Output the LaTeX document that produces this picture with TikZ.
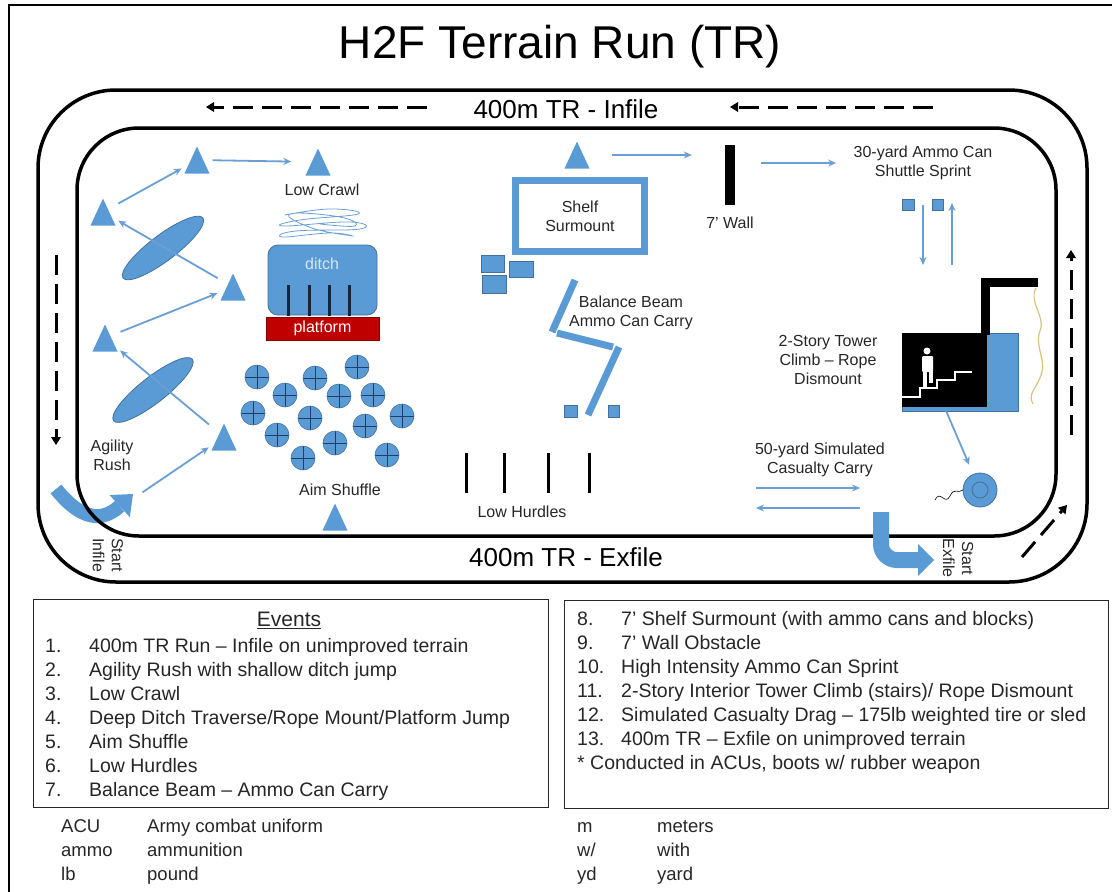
\documentclass[tikz,border=0pt]{standalone}
\usepackage{fontspec}
\setmainfont{Liberation Sans}
\usetikzlibrary{arrows.meta,shapes.geometric}

\definecolor{tblue}{HTML}{5B9BD5}
\definecolor{tedge}{HTML}{41719C}
\definecolor{tline}{HTML}{6A9FD6}
\definecolor{tdark}{HTML}{1F3F66}
\definecolor{tred}{HTML}{C00000}
\definecolor{rope}{HTML}{D9C27A}
\definecolor{ink}{HTML}{262626}

\begin{document}
\begin{tikzpicture}[x=1pt,y=-1pt,
  track/.style={line width=3.5pt},
  runarrow/.style={line width=3pt, dash pattern=on 20pt off 9pt, -{Triangle[length=8pt,width=10pt,line width=0pt]}},
  link/.style={tline, line width=1.8pt, -{Stealth[length=8pt,width=7pt]}, shorten <=3pt, shorten >=3pt},
  bigarrow/.style={tblue, line width=14pt},
  tri/.style={rectangle, minimum width=25pt, minimum height=27pt, inner sep=0pt,
    path picture={\fill[tblue] (path picture bounding box.south west) -- (path picture bounding box.south east) -- (path picture bounding box.north) -- cycle;}},
  disc/.style={ellipse, fill=tblue, draw=tedge, line width=0.8pt, minimum width=100pt, minimum height=26pt, inner sep=0pt},
  aim/.style={circle, fill=tblue, draw=tedge, line width=0.6pt, minimum size=24pt, inner sep=0pt,
    path picture={\draw[tdark, line width=0.8pt] (path picture bounding box.north) -- (path picture bounding box.south) (path picture bounding box.west) -- (path picture bounding box.east);}},
  block/.style={fill=tblue, draw=tedge, line width=0.6pt},
  lbl/.style={text=ink, align=center, font=\fontsize{16}{19}\selectfont},
  list/.style={anchor=north west, inner sep=0pt, text=ink, font=\fontsize{19.5}{24}\selectfont}]
\useasboundingbox (0,0) rectangle (1112,892);

% Frame and title
\draw[line width=2.5pt] (1113,5) -- (9,5) -- (9,893);
\node[font=\fontsize{46}{50}\selectfont] (title) at (560,47) {H2F Terrain Run (TR)};

% Start infile
\draw[bigarrow, -{Triangle[length=18pt,width=30pt,line width=0pt]}] (56,489) .. controls (76,514) and (98,526) .. (133,494);
\coordinate (si) at (140,494);

% Track
\draw[track, rounded corners=78pt] (38,90) rectangle (1087,582);
\draw[track, rounded corners=62pt] (77,128) rectangle (1056,536);
\node[font=\fontsize{26}{30}\selectfont] (infile) at (566,109) {400m TR - Infile};
\node[font=\fontsize{26}{30}\selectfont] (exfile) at (566,557) {400m TR - Exfile};

% Run direction
\draw[runarrow] (427,107) -- (206,107);
\draw[runarrow] (933,107) -- (730,107);
\draw[runarrow] (56,255) -- (56,445);
\draw[runarrow] (1071,435) -- (1071,250);
\draw[runarrow] (1022,557) -- (1067,505);

\node[lbl, rotate=-90] (sinf) at (108,555) {Start\\Infile};
\node[lbl, rotate=-90] (sexf) at (958,558) {Start\\Exfile};

% Agility rush
\node[disc, rotate=37] (e1) at (163,248) {};
\node[disc, rotate=38] (e2) at (153,390) {};
\node[tri] (t1) at (197,160) {};
\node[tri] (t2) at (318,162) {};
\node[tri] (t3) at (103,212) {};
\node[tri] (t4) at (233,287) {};
\node[tri] (t5) at (105,338) {};
\node[tri] (t6) at (224,437) {};
\draw[link] (si) -- (t6);
\draw[link] (t6) -- (t5);
\draw[link] (t5) -- (t4);
\draw[link] (t4) -- (t3);
\draw[link] (t3) -- (t1);
\draw[link, shorten >=14pt] (t1) -- (t2);
\node[lbl] (agil) at (112,455) {Agility\\Rush};

% Low crawl, ditch and platform
\node[lbl] (crawl) at (322,190) {Low Crawl};
\draw[tline, line width=0.8pt] plot[smooth, tension=0.8] coordinates {(285,215) (330,209) (358,214) (300,220) (284,226) (350,222) (360,229) (296,231) (283,237) (330,233) (352,236) (312,228) (290,214) (340,217) (355,226) (320,224)};
\node[fill=tblue, draw=tedge, line width=0.8pt, rounded corners=10pt, minimum width=109pt, minimum height=70pt, inner sep=0pt] (ditch) at (322.5,280) {};
\node[text=tblue!25, font=\fontsize{16}{19}\selectfont] (ditcht) at (322,264) {ditch};
\draw[line width=3pt, tdark!60!black] (288,285) -- (288,316) (309,285) -- (309,316) (329,285) -- (329,316) (349,285) -- (349,316);
\node[fill=tred, draw=tred!70!black, line width=0.6pt, minimum width=113pt, minimum height=23pt, inner sep=0pt, text=white, font=\fontsize{16}{19}\selectfont] (platform) at (322.5,328.5) {platform};

% Aim shuffle
\node[aim] (a1) at (257,377) {};
\node[aim] (a2) at (315,378) {};
\node[aim] (a3) at (357,367) {};
\node[aim] (a4) at (285,395) {};
\node[aim] (a5) at (339,396) {};
\node[aim] (a6) at (373,395) {};
\node[aim] (a7) at (253,413) {};
\node[aim] (a8) at (310,418) {};
\node[aim] (a9) at (402,416) {};
\node[aim] (a10) at (365,426) {};
\node[aim] (a11) at (277,435) {};
\node[aim] (a12) at (335,443) {};
\node[aim] (a13) at (387,455) {};
\node[aim] (a14) at (303,458) {};
\node[lbl] (aim) at (340,490) {Aim Shuffle};
\node[tri] (t7) at (335,517) {};

% Low hurdles
\draw[line width=3pt] (466,453) -- (466,493) (504,453) -- (504,493) (548,453) -- (548,493) (589,453) -- (589,493);
\node[lbl] (hurd) at (522,512) {Low Hurdles};

% Shelf surmount
\node[tri] (t8) at (577,155) {};
\node[draw=tblue, line width=7pt, fill=white, minimum width=129pt, minimum height=71pt, inner sep=0pt, lbl] (shelf) at (580,216) {Shelf\\Surmount};
\filldraw[block] (481,255) rectangle (504,272);
\filldraw[block] (509,261) rectangle (533,277);
\filldraw[block] (482,275) rectangle (506,293);

% Balance beam
\draw[tblue, line width=7pt] (575,280) -- (552,332);
\draw[tblue, line width=7pt] (557,333) -- (613,347);
\draw[tblue, line width=7pt] (619,347) -- (588,415);
\filldraw[block] (564,405) rectangle (577,417);
\filldraw[block] (608,405) rectangle (619,417);
\node[lbl] (beam) at (631,313) {Balance Beam\\Ammo Can Carry};

% Wall
\node[fill=black, minimum width=10pt, minimum height=60pt, inner sep=0pt] (wall) at (730,175) {};
\node[lbl] (wallt) at (730,223) {7’ Wall};
\draw[link, shorten <=22pt, shorten >=33pt] (t8.east) -- (t8.east -| wall.west);

% Ammo can sprint
\node[lbl] (sprint) at (923,163) {30-yard Ammo Can\\Shuttle Sprint};
\draw[link, shorten <=26pt, shorten >=14pt] (wall.east |- sprint.west) -- (sprint.west);
\filldraw[block] (902,199) rectangle (914,210);
\filldraw[block] (932,199) rectangle (943,210);
\coordinate (s1) at (923,202);
\coordinate (s2) at (923,268);
\coordinate (s3) at (952,268);
\coordinate (s4) at (952,200);
\draw[link] (s1) -- (s2);
\draw[link] (s3) -- (s4);

% Tower
\node[fill=tblue, draw=tedge, line width=0.8pt, minimum width=116pt, minimum height=78pt, inner sep=0pt] (towerbg) at (960,372) {};
\node[fill=black, minimum width=85pt, minimum height=74pt, inner sep=0pt] (tower) at (944.5,370) {};
\draw[line width=9pt] (985.5,335) -- (985.5,282) -- (1038,282);
\draw[rope, line width=1.2pt] (1036,288) .. controls (1028,302) and (1046,316) .. (1040,331) .. controls (1034,346) and (1047,360) .. (1041,375) .. controls (1037,388) and (1027,394) .. (1033,404);
\draw[white, line width=2.2pt] (902,397) -- (920,397) -- (920,388) -- (937,388) -- (937,380) -- (955,380) -- (955,372) -- (972,372);
\fill[white] (927,351) circle (3.5);
\fill[white, rounded corners=1pt] (922,356) rectangle (933,372);
\fill[white] (923,371) rectangle (927,387);
\fill[white] (929,371) rectangle (933,383);
\node[lbl] (towert) at (828,360) {2-Story Tower\\Climb – Rope\\Dismount};

% Casualty carry
\node[circle, fill=tblue, draw=tedge, line width=0.8pt, minimum size=34pt, inner sep=0pt] (tire) at (980,490) {};
\draw[tedge, line width=0.8pt] (tire) circle (8);
\draw[line width=0.6pt] (935,500) .. controls (940,489) and (945,506) .. (950,496) .. controls (954,487) and (958,494) .. (963,490);
\draw[link, shorten >=10pt] (tower.south) -- (tire);
\node[lbl] (carry) at (820,460) {50-yard Simulated\\Casualty Carry};
\coordinate (c1) at (753,488);
\coordinate (c2) at (863,488);
\coordinate (c3) at (863,508);
\coordinate (c4) at (753,508);
\draw[link] (c1) -- (c2);
\draw[link] (c3) -- (c4);

% Start exfile
\draw[bigarrow, line width=16pt, rounded corners=16pt, -{Triangle[length=16pt,width=32pt,line width=0pt]}] (881,512) |- (934,560);

% Events
\draw[ink, line width=1pt] (33,599) rectangle (548,807);
\draw[ink, line width=1pt] (564,600) rectangle (1108,808);
\node[text=ink, font=\fontsize{21}{24}\selectfont] (events) at (289,620) {\underline{Events}};
\node[list] (evl) at (45,635) {\begin{tabular}{@{}p{44pt}@{}l@{}}
1. & 400m TR Run – Infile on unimproved terrain\\
2. & Agility Rush with shallow ditch jump\\
3. & Low Crawl\\
4. & Deep Ditch Traverse/Rope Mount/Platform Jump\\
5. & Aim Shuffle\\
6. & Low Hurdles\\
7. & Balance Beam – Ammo Can Carry
\end{tabular}};
\node[list] (evr) at (577,608) {\begin{tabular}{@{}p{44pt}@{}l@{}}
8. & 7’ Shelf Surmount (with ammo cans and blocks)\\
9. & 7’ Wall Obstacle\\
10. & High Intensity Ammo Can Sprint\\
11. & 2-Story Interior Tower Climb (stairs)/ Rope Dismount\\
12. & Simulated Casualty Drag – 175lb weighted tire or sled\\
13. & 400m TR – Exfile on unimproved terrain\\
\multicolumn{2}{@{}l@{}}{* Conducted in ACUs, boots w/ rubber weapon}
\end{tabular}};

% Abbreviations
\node[list, font=\fontsize{18.5}{24}\selectfont] (abl) at (61,815) {\begin{tabular}{@{}p{86pt}@{}l@{}}
ACU & Army combat uniform\\
ammo & ammunition\\
lb & pound
\end{tabular}};
\node[list, font=\fontsize{18.5}{24}\selectfont] (abr) at (577,815) {\begin{tabular}{@{}p{80pt}@{}l@{}}
m & meters\\
w/ & with\\
yd & yard
\end{tabular}};

\end{tikzpicture}
\end{document}
